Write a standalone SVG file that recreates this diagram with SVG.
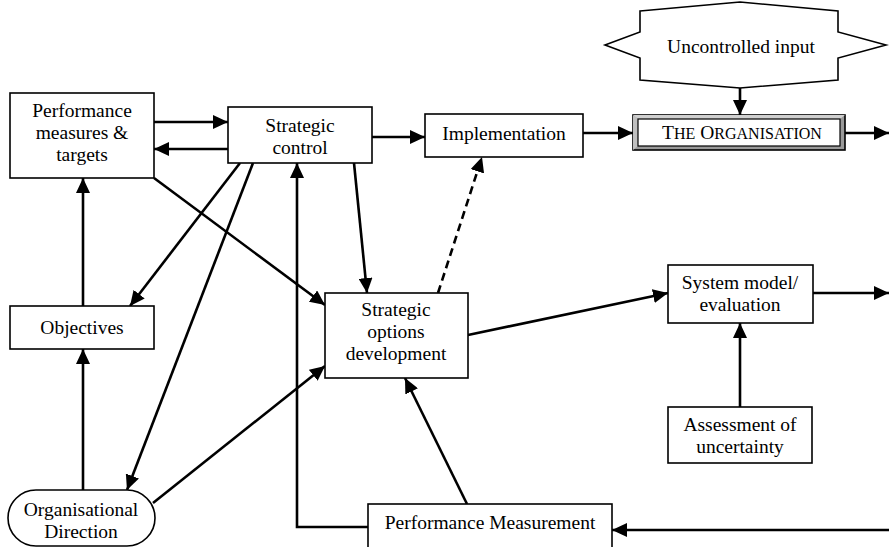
<svg xmlns="http://www.w3.org/2000/svg" width="889" height="547" viewBox="0 0 889 547">
<defs>
<marker id="ah" markerUnits="userSpaceOnUse" markerWidth="16" markerHeight="14" refX="15" refY="7" orient="auto">
<path d="M0,0 L15,7 L0,14 Z" fill="#000"/>
</marker>
<style>
.box{fill:#fff;stroke:#000;stroke-width:1.6}
.t{font-family:'Liberation Serif','DejaVu Serif',serif;font-size:19.5px;fill:#000;text-anchor:middle}
.c{fill:none;stroke:#000;stroke-width:2.6;marker-end:url(#ah)}
.d{fill:none;stroke:#000;stroke-width:2.6;stroke-dasharray:8,5;marker-end:url(#ah)}
</style>
</defs>
<rect width="889" height="547" fill="#fff"/>
<g id="connectors">
<line class="c" x1="154" y1="122" x2="228" y2="122"/>
<line class="c" x1="228" y1="149" x2="154" y2="149"/>
<line class="c" x1="372" y1="137" x2="425" y2="137"/>
<line class="c" x1="583" y1="133" x2="633" y2="133"/>
<line class="c" x1="845" y1="133" x2="889" y2="133"/>
<line class="c" x1="740" y1="88" x2="740" y2="115"/>
<line class="c" x1="83" y1="306" x2="83" y2="178"/>
<line class="c" x1="83" y1="490" x2="83" y2="349"/>
<line class="c" x1="240" y1="163" x2="130" y2="306"/>
<line class="c" x1="253" y1="163" x2="127" y2="490"/>
<line class="c" x1="154" y1="178" x2="325" y2="305"/>
<line class="c" x1="354" y1="163" x2="367" y2="293"/>
<line class="d" x1="438" y1="293" x2="482" y2="157"/>
<line class="c" x1="153" y1="503" x2="325" y2="366"/>
<path class="c" d="M368,527 L297,527 L297,163"/>
<line class="c" x1="467" y1="504" x2="405" y2="378"/>
<line class="c" x1="889" y1="530" x2="612" y2="530"/>
<line class="c" x1="468" y1="335" x2="668" y2="293"/>
<line class="c" x1="813" y1="293" x2="889" y2="293"/>
<line class="c" x1="740" y1="407" x2="740" y2="323"/>
</g>
<g id="perf-measures">
<rect class="box" x="10" y="93" width="144" height="85"/>
<text class="t" x="82" y="117">Performance</text>
<text class="t" x="82" y="139">measures &amp;</text>
<text class="t" x="82" y="161">targets</text>
</g>
<g id="strategic-control">
<rect class="box" x="228" y="107" width="144" height="56"/>
<text class="t" x="300" y="132">Strategic</text>
<text class="t" x="300" y="154">control</text>
</g>
<g id="implementation">
<rect class="box" x="425" y="114" width="158" height="43"/>
<text class="t" x="504" y="140">Implementation</text>
</g>
<g id="uncontrolled-input">
<polygon class="box" points="640,11 740,2 838,11 838,32 886,45 838,58 838,80 740,88 640,80 640,58 605,45 640,32"/>
<text class="t" x="741" y="53">Uncontrolled input</text>
</g>
<g id="organisation">
<rect x="633" y="115" width="212" height="35" fill="#9a9a9a" stroke="#000" stroke-width="1.6"/>
<polygon points="633,115 845,115 840,119 638,119" fill="#d0d0d0"/>
<polygon points="633,115 638,119 638,146 633,150" fill="#c0c0c0"/>
<rect x="638" y="119" width="202" height="27" fill="#fff" stroke="#000" stroke-width="1.2"/>
<text class="t" x="742" y="139" font-size="20">T<tspan font-size="16">HE</tspan> O<tspan font-size="16">RGANISATION</tspan></text>
</g>
<g id="objectives">
<rect class="box" x="10" y="306" width="144" height="43"/>
<text class="t" x="82" y="334">Objectives</text>
</g>
<g id="strategic-options">
<rect class="box" x="325" y="293" width="143" height="85"/>
<text class="t" x="396" y="316">Strategic</text>
<text class="t" x="396" y="338">options</text>
<text class="t" x="396" y="360">development</text>
</g>
<g id="system-model">
<rect class="box" x="668" y="265" width="145" height="58"/>
<text class="t" x="740" y="289">System model/</text>
<text class="t" x="740" y="311">evaluation</text>
</g>
<g id="assessment">
<rect class="box" x="668" y="407" width="144" height="56"/>
<text class="t" x="740" y="431">Assessment of</text>
<text class="t" x="740" y="453">uncertainty</text>
</g>
<g id="org-direction">
<rect class="box" x="8" y="490" width="147" height="56" rx="28" ry="28"/>
<text class="t" x="81" y="516">Organisational</text>
<text class="t" x="81" y="538">Direction</text>
</g>
<g id="perf-measurement">
<rect class="box" x="368" y="504" width="244" height="48"/>
<text class="t" x="490" y="529">Performance Measurement</text>
</g>
</svg>
